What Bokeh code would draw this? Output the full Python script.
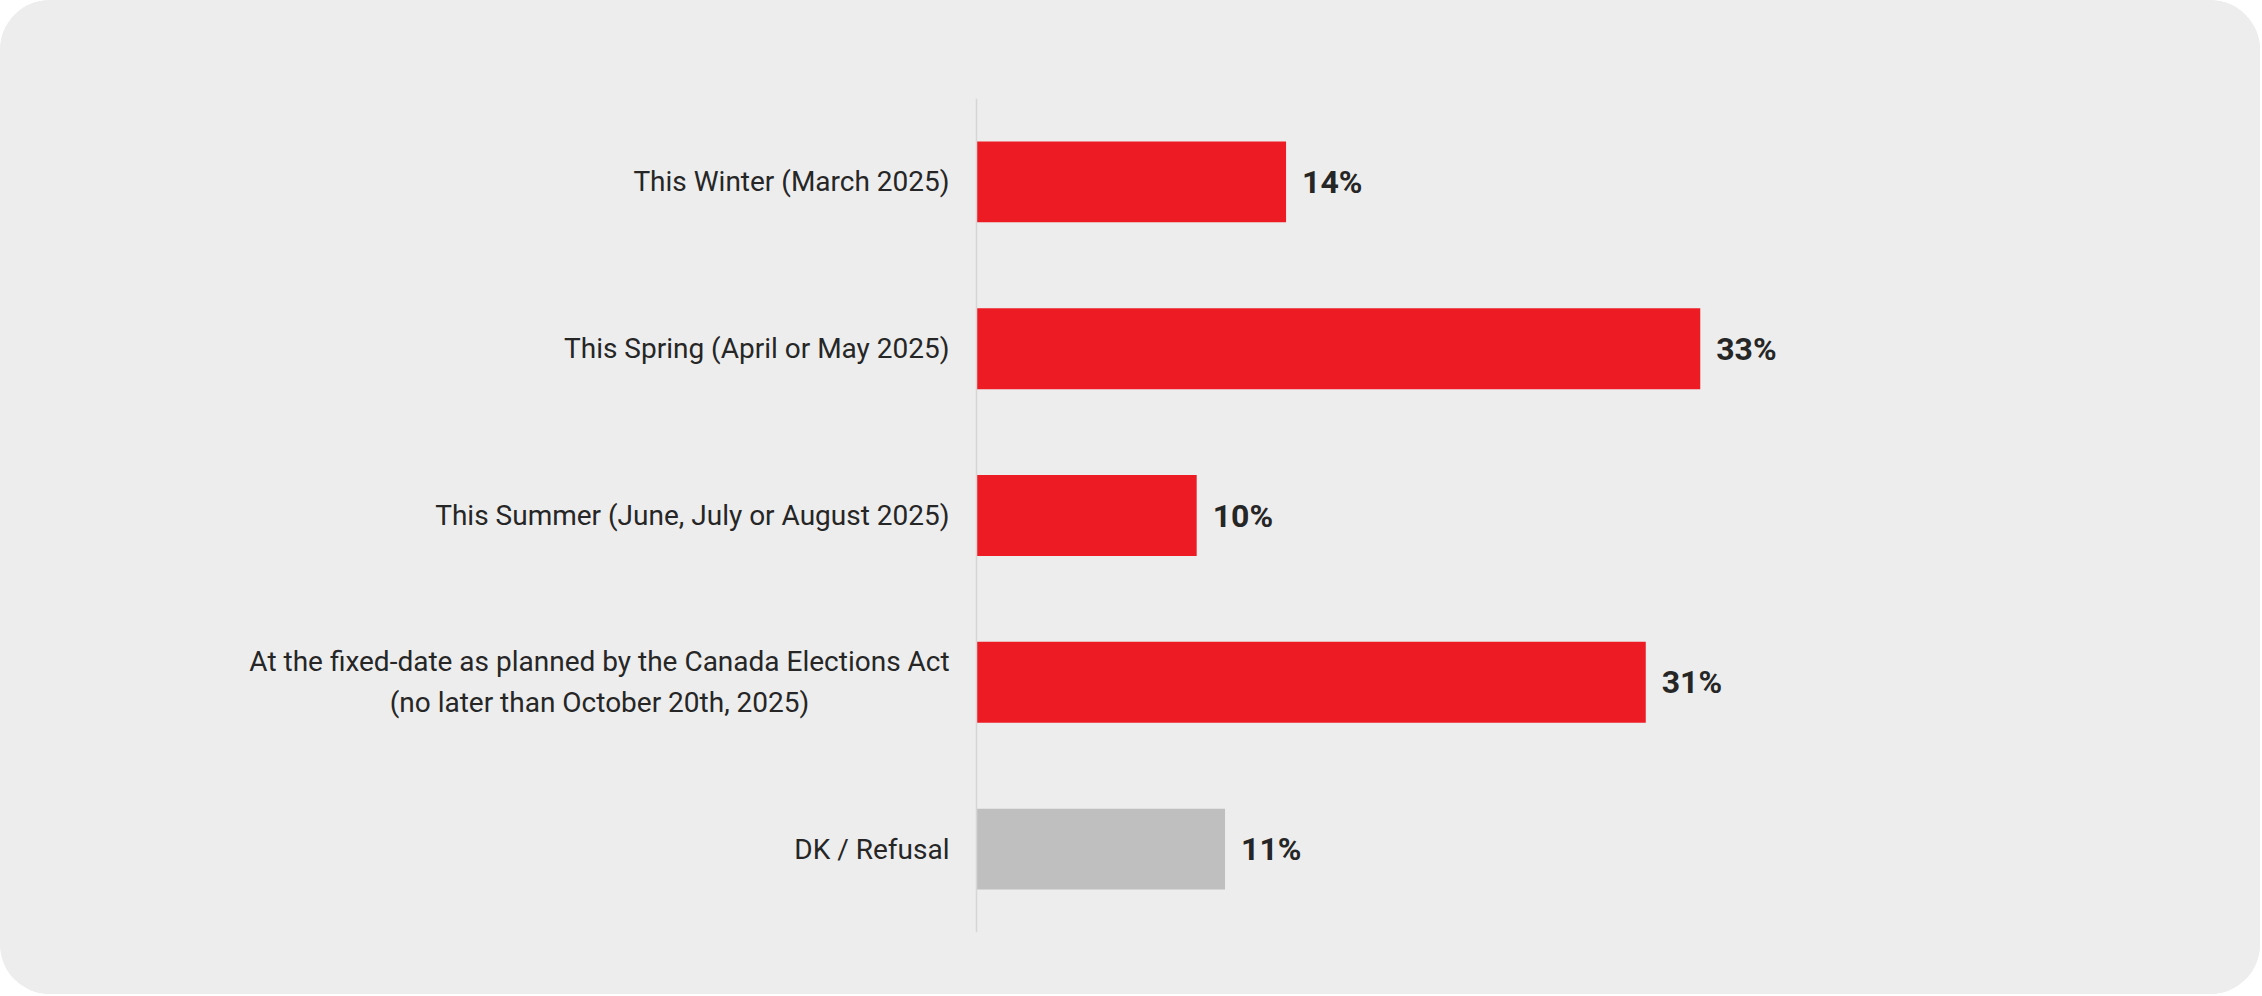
from bokeh.plotting import figure
from bokeh.models import ColumnDataSource, FactorRange, Range1d, Span
from bokeh.core.properties import value
from bokeh.embed import file_html
from bokeh.resources import INLINE

categories = [
    "This Winter (March 2025)",
    "This Spring (April or May 2025)",
    "This Summer (June, July or August 2025)",
    "At the fixed-date as planned by the Canada Elections Act\n(no later than October 20th, 2025)",
    "DK / Refusal",
]
values = [14.2, 33.2, 10.1, 30.7, 11.4]
value_labels = ["14%", "33%", "10%", "31%", "11%"]

RED = "#ED1C24"
GRAY = "#BFBFBF"
BG = "#EDEDED"
TXT = "#262626"
colors = [GRAY if c.startswith("DK") else RED for c in categories]

src = ColumnDataSource(dict(cat=categories, val=values, lab=value_labels, col=colors))

PX_PER_UNIT = 21.8
AXIS_PX = 976
W, H = 2260, 994

p = figure(
    width=W, height=H,
    y_range=FactorRange(factors=list(reversed(categories)), range_padding=0),
    x_range=Range1d(-AXIS_PX / PX_PER_UNIT, (W - AXIS_PX) / PX_PER_UNIT),
    output_backend="svg", toolbar_location=None,
    min_border_left=0, min_border_right=0, min_border_top=98, min_border_bottom=62,
)
p.styles = {"border-radius": "50px", "overflow": "hidden", "background-color": BG}
p.background_fill_color = None
p.border_fill_color = BG
p.outline_line_color = None
p.grid.visible = False
p.xaxis.visible = False
p.yaxis.visible = False

# baseline (category axis line)
p.add_layout(Span(location=0, dimension="height", line_color="#D6D6D6", line_width=1.5))

p.hbar(y="cat", right="val", left=0, height=0.485, color="col", line_color=None, source=src)

# value labels
p.text(x="val", y="cat", text="lab", source=src, x_offset=16,
       text_baseline="middle", text_align="left",
       text_font=value("Roboto"), text_font_style="bold",
       text_font_size="32px", text_color=TXT)

# category labels
single = [c for c in categories if "\n" not in c]
multi = [c for c in categories if "\n" in c]
p.text(x=[0] * len(single), y=single, text=single, x_offset=-27,
       text_align="right", text_baseline="middle",
       text_font=value("Roboto"), text_font_size="28px", text_color=TXT)
p.text(x=[0] * len(multi), y=multi, text=multi, x_offset=-377,
       text_align="center", text_baseline="middle", text_line_height=1.25,
       text_font=value("Roboto"), text_font_size="28px", text_color=TXT)

open("out.html", "w").write(file_html(p, INLINE))
